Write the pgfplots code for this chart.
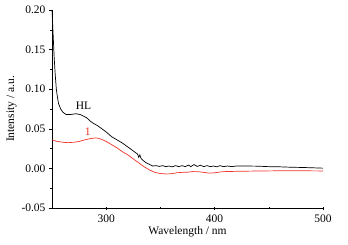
\documentclass[border=0pt]{standalone}
\usepackage{pgfplots}
\pgfplotsset{compat=1.18}
\usepackage{fontspec}
\setmainfont{Liberation Serif}
\definecolor{myred}{RGB}{240,50,40}
\begin{document}
\begin{tikzpicture}
\begin{axis}[
  scale only axis, width=271pt, height=198pt,
  xmin=250, xmax=500, ymin=-0.05, ymax=0.20,
  axis x line*=bottom, axis y line*=left,
  tick align=outside, major tick length=3pt, minor tick length=2pt,
  x tick style={/pgfplots/tick align=center},
  xtick={300,400,500}, minor xtick={350,450},
  ytick={-0.05,0,0.05,0.10,0.15,0.20},
  minor ytick={-0.025,0.025,0.075,0.125,0.175},
  yticklabel style={/pgf/number format/fixed,/pgf/number format/fixed zerofill,/pgf/number format/precision=2},
  /pgf/number format/assume math mode=true,
  ticklabel style={font=\fontsize{11.5}{12}\selectfont},
  label style={font=\fontsize{11.5}{12}\selectfont},
  xlabel={Wavelength / nm}, ylabel={Intensity / a.u.},
  xlabel style={yshift=3pt}, ylabel style={yshift=-2pt},
  tick style={black, line width=0.5pt},
  axis line style={line width=0.6pt},
  clip=false,
]
\addplot[black, line width=0.7pt] coordinates {
(250,0.200)(251,0.170)(252,0.140)(253,0.118)(254,0.100)(255,0.090)(256,0.082)(258,0.075)(260,0.071)(263,0.068)(267,0.068)(272,0.069)(276,0.068)(279,0.066)(282,0.064)(285,0.060)(288,0.057)(292,0.054)(296,0.050)(300,0.046)(305,0.040)(310,0.036)(315,0.032)(320,0.027)(325,0.022)(329,0.018)(330,0.014)(331,0.017)(332,0.013)(334,0.010)(337,0.007)(340,0.005)(343,0.003)(346,0.0035)(349,0.0025)(352,0.0035)(355,0.0022)(358,0.003)(361,0.002)(364,0.0035)(367,0.0022)(370,0.0035)(373,0.0022)(376,0.0042)(378,0.0022)(381,0.0048)(384,0.0025)(387,0.004)(390,0.0022)(393,0.0035)(396,0.0022)(399,0.003)(402,0.002)(405,0.0035)(408,0.0022)(412,0.003)(416,0.0022)(420,0.003)(430,0.003)(440,0.0028)(450,0.0022)(460,0.002)(470,0.0015)(480,0.0012)(490,0.0008)(500,0.0003)
};
\addplot[myred, line width=0.7pt] coordinates {
(250,0.036)(255,0.034)(260,0.033)(265,0.0325)(270,0.033)(275,0.034)(280,0.036)(285,0.0375)(290,0.0385)(293,0.038)(297,0.036)(300,0.034)(305,0.030)(310,0.026)(315,0.021)(320,0.017)(325,0.012)(330,0.007)(335,0.002)(340,-0.002)(345,-0.005)(350,-0.0065)(355,-0.007)(360,-0.0068)(365,-0.0055)(370,-0.005)(375,-0.0048)(380,-0.004)(385,-0.0042)(390,-0.005)(395,-0.006)(400,-0.0055)(405,-0.0045)(410,-0.004)(420,-0.0037)(440,-0.0033)(460,-0.003)(480,-0.003)(500,-0.0032)
};
\node[font=\fontsize{11.5}{12}\selectfont] at (axis cs:279,0.079) {HL};
\node[font=\fontsize{11.5}{12}\selectfont, text=myred] at (axis cs:283,0.046) {1};
\end{axis}
\path[use as bounding box] (-52pt,-36pt) rectangle (296pt,208pt);
\end{tikzpicture}
\end{document}
